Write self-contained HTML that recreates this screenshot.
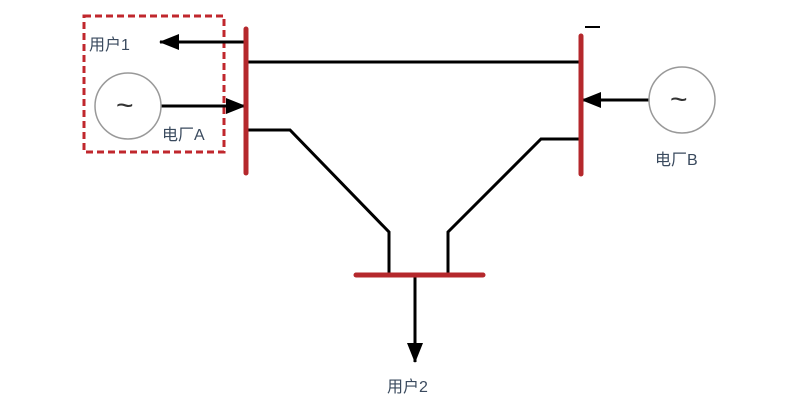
<!DOCTYPE html>
<html><head><meta charset="utf-8"><style>
body{margin:0;background:#fff;}
svg{display:block}
text{font-family:"Liberation Sans","Noto Sans CJK SC",sans-serif;fill:#3a4a5e;font-size:16px}
</style></head><body>
<svg width="800" height="411" viewBox="0 0 800 411">
<defs>
<marker id="b" markerWidth="20" markerHeight="16" refX="19" refY="8" orient="auto" markerUnits="userSpaceOnUse"><path d="M0,0 L20,8 L0,16 z" fill="#000"/></marker></defs>
<rect x="84" y="16" width="140" height="136" fill="none" stroke="#c0272d" stroke-width="3" stroke-dasharray="7,4"/>
<g stroke="#000" stroke-width="3" fill="none">
<line x1="246" y1="62" x2="581" y2="62"/>
<polyline points="246,130 290,130 389,232 389,275"/>
<polyline points="581,139 541,139 448,232 448,275"/>
<line x1="246" y1="42" x2="160" y2="42" marker-end="url(#b)"/>
<line x1="161" y1="106" x2="245" y2="106" marker-end="url(#b)"/>
<line x1="649" y1="100" x2="582" y2="100" marker-end="url(#b)"/>
<line x1="415" y1="275" x2="415" y2="362" marker-end="url(#b)"/>
<line x1="585" y1="27" x2="600" y2="27" stroke-width="2"/>
</g>
<g stroke="#b5282c" stroke-width="5" stroke-linecap="round">
<line x1="246" y1="29" x2="246" y2="173"/>
<line x1="581" y1="36" x2="581" y2="174"/>
<line x1="356" y1="275" x2="483" y2="275"/>
</g>
<circle cx="128" cy="106" r="33" fill="none" stroke="#999" stroke-width="1.5"/>
<circle cx="682" cy="100" r="33" fill="none" stroke="#999" stroke-width="1.5"/>
<text x="116" y="115" style="font-size:30px;fill:#333">~</text>
<text x="670" y="109" style="font-size:30px;fill:#333">~</text>
<text x="89" y="50">用户1</text>
<text x="162" y="140">电厂A</text>
<text x="655" y="165">电厂B</text>
<text x="387" y="392">用户2</text>
</svg>
</body></html>
